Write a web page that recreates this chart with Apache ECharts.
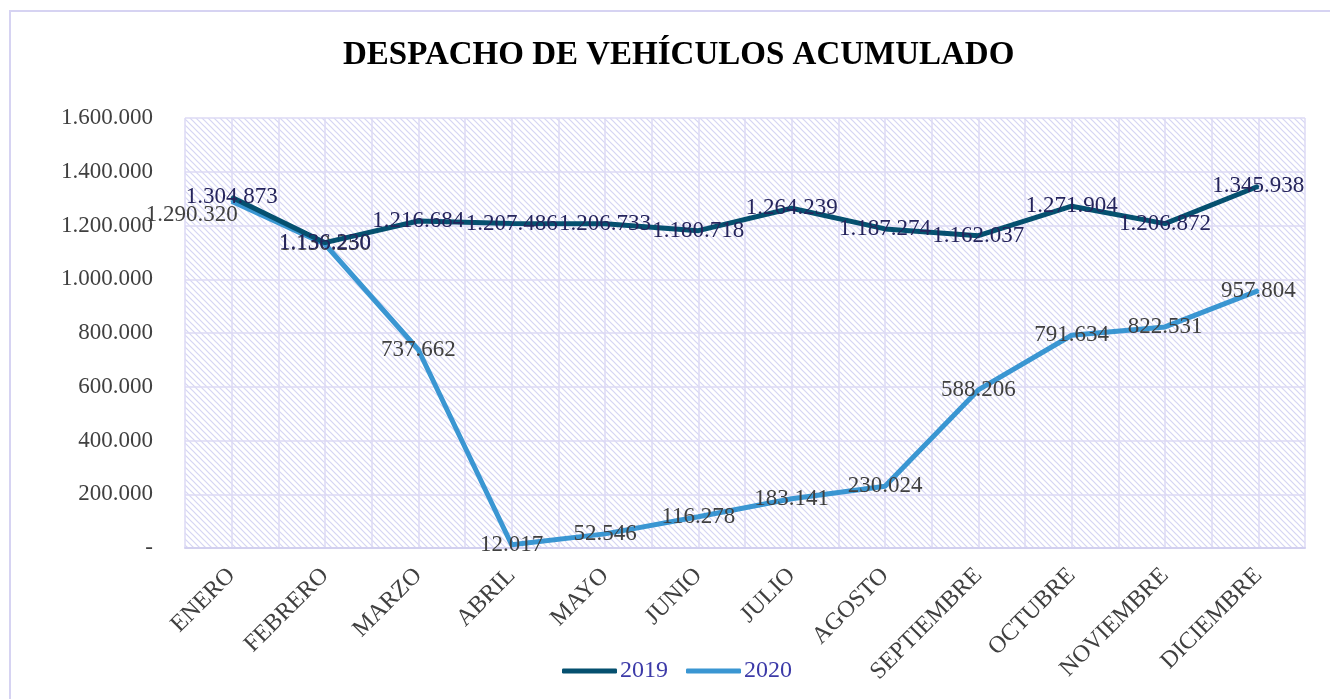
<!DOCTYPE html>
<html>
<head>
<meta charset="utf-8">
<script src="https://cdn.jsdelivr.net/npm/echarts@6/dist/echarts.min.js"></script>
<style>
  html, body { margin: 0; padding: 0; background: #fff; }
  #chart { width: 1330px; height: 699px; }
</style>
</head>
<body>
<div id="chart"></div>
<script>
// datos
const meses = ['ENERO', 'FEBRERO', 'MARZO', 'ABRIL', 'MAYO', 'JUNIO', 'JULIO', 'AGOSTO', 'SEPTIEMBRE', 'OCTUBRE', 'NOVIEMBRE', 'DICIEMBRE']
const datos2019 = [1304873, 1136230, 1216684, 1207486, 1206733, 1180718, 1264239, 1187274, 1162037, 1271904, 1206872, 1345938]
const datos2020 = [1290320, 1130250, 737662, 12017, 52546, 116278, 183141, 230024, 588206, 791634, 822531, 957804]

const serif = '"Liberation Serif", "DejaVu Serif", serif'

// formato con punto de miles
function fmt(v) {
  if (v === 0) return '-'
  return String(v).replace(/\B(?=(\d{3})+(?!\d))/g, '.')
}

// trama diagonal del fondo
function makePattern() {
  const s = 6
  const c = document.createElement('canvas')
  c.width = s
  c.height = s
  const ctx = c.getContext('2d')
  ctx.fillStyle = '#ffffff'
  ctx.fillRect(0, 0, s, s)
  ctx.strokeStyle = 'rgba(185,185,235,0.6)'
  ctx.lineWidth = 1.2
  ctx.beginPath()
  ctx.moveTo(-1, -1); ctx.lineTo(s + 1, s + 1)
  ctx.moveTo(-1, s - 1); ctx.lineTo(1, s + 1)
  ctx.moveTo(s - 1, -1); ctx.lineTo(s + 1, 1)
  ctx.stroke()
  return c
}

const halfCats = []
for (let i = 0; i < meses.length * 2; i++) halfCats.push(String(i))

const chart = echarts.init(document.getElementById('chart'))

const option = {
  animation: false,
  backgroundColor: '#fff',
  title: {
    text: 'DESPACHO DE VEHÍCULOS ACUMULADO',
    left: 338,
    top: 34,
    textStyle: { fontFamily: serif, fontSize: 33, fontWeight: 'bold', color: '#000' }
  },
  graphic: [{
    type: 'rect',
    shape: { x: 10, y: 11, width: 1340, height: 720 },
    style: { fill: 'none', stroke: '#d6d3f2', lineWidth: 2 },
    silent: true
  }],
  legend: {
    bottom: 11,
    left: 557,
    icon: 'roundRect',
    itemWidth: 55,
    itemHeight: 5,
    itemGap: 18,
    textStyle: { fontFamily: serif, fontSize: 24, color: '#3c3aa8', padding: [0, 0, 0, -2] },
    data: ['2019', '2020']
  },
  grid: {
    left: 185,
    right: 25,
    top: 118,
    bottom: 151,
    show: true,
    borderWidth: 0,
    backgroundColor: { image: makePattern(), repeat: 'repeat' }
  },
  xAxis: [{
    type: 'category',
    data: meses,
    boundaryGap: true,
    axisLine: { lineStyle: { color: '#d2d0ef', width: 2 } },
    axisTick: { show: false },
    splitLine: { show: false },
    axisLabel: {
      rotate: 45,
      margin: 24,
      interval: 0,
      fontFamily: serif,
      fontSize: 24,
      color: '#404040'
    }
  }, {
    // líneas verticales cada media categoría
    type: 'category',
    data: halfCats,
    position: 'bottom',
    boundaryGap: true,
    axisLine: { show: false },
    axisTick: { show: false },
    axisLabel: { show: false },
    splitLine: { show: true, interval: 0, lineStyle: { color: '#dcdaf4', width: 1.5 } }
  }],
  yAxis: {
    type: 'value',
    min: 0,
    max: 1600000,
    interval: 200000,
    axisLine: { show: false },
    axisTick: { show: false },
    splitLine: { lineStyle: { color: '#dcdaf4', width: 1.5 } },
    axisLabel: {
      margin: 32,
      fontFamily: serif,
      fontSize: 23,
      color: '#404040',
      formatter: fmt
    }
  },
  series: [{
    name: '2019',
    type: 'line',
    data: datos2019,
    symbol: 'circle',
    symbolSize: 2,
    lineStyle: { color: '#05506f', width: 5 },
    itemStyle: { color: '#05506f' },
    label: {
      show: true,
      position: 'inside',
      fontFamily: serif,
      fontSize: 23,
      color: '#25245c',
      formatter: p => fmt(p.value)
    },
    z: 3
  }, {
    name: '2020',
    type: 'line',
    data: datos2020.map((v, i) => i === 0 ? { value: v, label: { offset: [-40, 14] } } : v),
    symbol: 'circle',
    symbolSize: 2,
    lineStyle: { color: '#3a96d2', width: 5 },
    itemStyle: { color: '#3a96d2' },
    label: {
      show: true,
      position: 'inside',
      fontFamily: serif,
      fontSize: 23,
      color: '#404040',
      formatter: p => fmt(p.value)
    },
    z: 2
  }]
}

chart.setOption(option)
</script>
</body>
</html>
